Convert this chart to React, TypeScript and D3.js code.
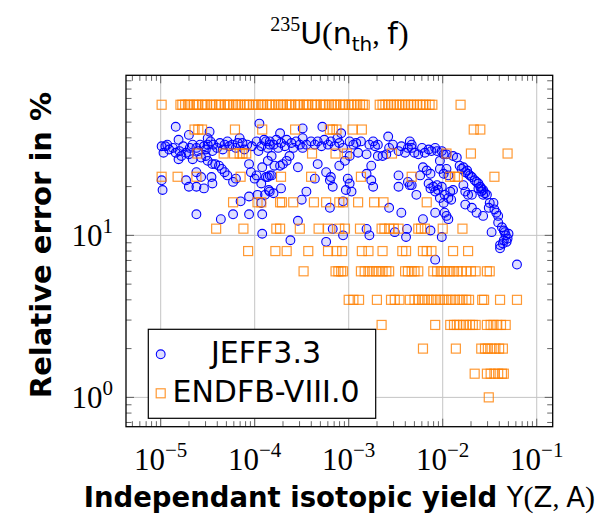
import React from "react";
import * as d3 from "d3";

// ---------------- DATA ----------------
// Axis tick labels (exponents of 10)
const xTickExponents = [-5, -4, -3, -2, -1];
const yTickExponents = [0, 1];
const legendLabels = ["JEFF3.3", "ENDFB-VIII.0"];

// ENDF/B-VIII.0 : relative error levels (%) and log10(independent yield) of the nuclides at each level
const endfLevels = [64, 45, 32, 23, 16, 11, 8, 6, 4, 2.8, 2, 1.4, 1];
const endf64 = [-4.99, -4.79, -4.77, -4.74, -4.71, -4.69, -4.65, -4.62, -4.60, -4.56, -4.53, -4.51, -4.47, -4.45, -4.41, -4.38, -4.36, -4.32, -4.29, -4.27, -4.23, -4.20, -4.18, -4.15, -4.11, -4.08, -4.06, -4.02, -3.99, -3.96, -3.93, -3.91, -3.87, -3.84, -3.82, -3.78, -3.75, -3.72, -3.70, -3.66, -3.63, -3.61, -3.57, -3.54, -3.52, -3.48, -3.45, -3.43, -3.39, -3.36, -3.34, -3.30, -3.27, -3.25, -3.21, -3.18, -3.15, -3.13, -3.09, -3.06, -3.04, -3.00, -2.97, -2.94, -2.91, -2.88, -2.85, -2.83, -2.67, -2.64, -2.61, -2.58, -2.55, -2.52, -2.49, -2.46, -2.43, -2.40, -2.37, -2.34, -2.31, -2.27, -2.24, -2.21, -2.18, -2.14, -2.11, -1.81];
const endf45 = [-4.64, -4.60, -4.56, -4.21, -3.92, -3.57, -3.20, -3.17, -3.13, -2.96, -2.86, -1.67, -1.60];
const endf32 = [-4.61, -4.33, -4.22, -4.16, -4.13, -4.09, -3.39, -3.14, -3.02, -2.54, -1.96, -1.70, -1.31];
const endf23 = [-4.99, -4.82, -4.62, -4.15, -3.72, -3.40, -2.87, -2.33, -1.92, -1.87, -1.84, -1.45];
const endf16 = [-4.23, -3.97, -3.93, -3.73, -3.71, -3.59, -3.37, -3.24, -3.10, -3.06, -2.90, -2.73, -2.63, -2.17];
const endf11 = [-4.41, -4.12, -3.77, -3.73, -3.52, -3.32, -3.22, -3.10, -3.04, -2.88, -2.65, -2.62, -2.57, -2.52, -2.47, -2.26, -2.23, -2.19, -2.00, -1.79];
const endf8 = [-4.07, -3.78, -3.66, -3.43, -3.22, -3.13, -3.07, -2.86, -2.79, -2.64, -2.43, -2.39, -2.21, -2.17, -2.12, -1.89, -1.73];
const endf6 = [-3.48, -3.14, -3.11, -3.08, -3.06, -2.87, -2.83, -2.79, -2.75, -2.71, -2.68, -2.64, -2.60, -2.57, -2.40, -2.37, -2.33, -2.30, -2.26, -2.10, -2.06, -2.02, -1.99, -1.95, -1.92, -1.88, -1.84, -1.80, -1.75, -1.70, -1.65, -1.53, -1.50];
const endf4 = [-3.00, -2.95, -2.89, -2.70, -2.55, -2.51, -2.46, -2.35, -2.30, -2.26, -2.22, -2.19, -2.15, -2.11, -2.07, -2.03, -1.99, -1.95, -1.91, -1.87, -1.83, -1.79, -1.75, -1.72, -1.58, -1.56, -1.39, -1.21];
const endf2p8 = [-2.65, -2.08, -1.92, -1.88, -1.85, -1.82, -1.78, -1.75, -1.71, -1.68, -1.65, -1.53, -1.49, -1.46, -1.42, -1.38, -1.33];
const endf2 = [-2.21, -1.86, -1.59, -1.55, -1.52, -1.48, -1.44, -1.40, -1.36];
const endf1p4 = [-1.66, -1.53, -1.49, -1.45, -1.41, -1.37, -1.35];
const endf1 = [-1.51];
const endfByLevel = [endf64, endf45, endf32, endf23, endf16, endf11, endf8, endf6, endf4, endf2p8, endf2, endf1p4, endf1];

// JEFF3.3 : [log10(independent yield), log10(relative error %)]
const jeffLowYield: [number, number][] = [
  [-4.84, 1.67], [-4.81, 1.59], [-4.70, 1.62], [-4.48, 1.64], [-4.50, 1.60], [-3.95, 1.69],
  [-4.99, 1.55], [-4.95, 1.55], [-4.97, 1.51], [-4.91, 1.53], [-4.87, 1.54], [-4.84, 1.51], [-4.80, 1.52],
  [-4.81, 1.47], [-4.78, 1.49], [-4.73, 1.51], [-4.69, 1.54], [-4.66, 1.56], [-4.62, 1.54], [-4.58, 1.56],
  [-4.54, 1.55], [-4.50, 1.56], [-4.45, 1.52], [-4.44, 1.56], [-4.40, 1.54], [-4.37, 1.57], [-4.32, 1.56],
  [-4.29, 1.58], [-4.24, 1.56], [-4.20, 1.54], [-4.16, 1.60], [-4.13, 1.57], [-4.11, 1.53], [-3.98, 1.58],
  [-3.93, 1.55], [-3.90, 1.59], [-3.86, 1.54], [-3.84, 1.56],
  [-4.93, 1.56], [-4.76, 1.55], [-4.60, 1.52], [-4.52, 1.53], [-4.47, 1.58], [-4.34, 1.53], [-4.27, 1.55],
  [-4.18, 1.57], [-4.08, 1.56], [-4.03, 1.55], [-3.96, 1.52], [-3.88, 1.58],
  [-4.70, 1.50], [-4.66, 1.47], [-4.57, 1.48], [-4.52, 1.49], [-4.50, 1.46], [-4.45, 1.44], [-4.42, 1.44],
  [-4.38, 1.43], [-4.35, 1.41], [-4.32, 1.39], [-4.29, 1.37], [-4.23, 1.33], [-4.20, 1.35],
  [-4.99, 1.34], [-4.98, 1.28], [-4.73, 1.34], [-4.70, 1.30], [-4.62, 1.30], [-4.62, 1.39], [-4.57, 1.36],
  [-4.54, 1.29], [-4.46, 1.36], [-4.45, 1.32],
  [-4.06, 1.44], [-4.04, 1.39], [-4.00, 1.35], [-3.98, 1.37], [-3.93, 1.32], [-3.92, 1.42], [-3.88, 1.36], [-3.84, 1.37],
  [-4.15, 1.21], [-4.06, 1.24], [-3.97, 1.25], [-3.93, 1.20], [-3.89, 1.25], [-3.85, 1.28],
  [-4.62, 1.13], [-4.36, 1.10], [-4.23, 1.13], [-4.06, 1.13], [-3.92, 1.13], [-3.92, 1.01],
];
const jeffMidYield: [number, number][] = [
  [-3.73, 1.63], [-3.49, 1.66], [-3.28, 1.67], [-3.08, 1.63], [-2.58, 1.61],
  [-3.84, 1.58], [-3.80, 1.56], [-3.77, 1.59], [-3.75, 1.54], [-3.72, 1.57], [-3.68, 1.55], [-3.66, 1.59],
  [-3.61, 1.57], [-3.59, 1.54], [-3.56, 1.58], [-3.52, 1.56], [-3.49, 1.60], [-3.49, 1.54], [-3.45, 1.56],
  [-3.40, 1.58], [-3.36, 1.56], [-3.33, 1.58], [-3.29, 1.55], [-3.26, 1.59], [-3.22, 1.56], [-3.19, 1.58],
  [-3.15, 1.55], [-3.12, 1.60], [-3.10, 1.57], [-3.06, 1.54], [-2.99, 1.58], [-2.95, 1.56], [-2.92, 1.57],
  [-2.90, 1.51], [-2.87, 1.58], [-2.81, 1.50], [-2.78, 1.56], [-2.74, 1.58], [-2.72, 1.55], [-2.69, 1.56],
  [-2.64, 1.49], [-2.60, 1.50], [-2.57, 1.54], [-2.53, 1.56], [-2.47, 1.52], [-2.44, 1.55], [-2.40, 1.51],
  [-2.37, 1.54], [-2.33, 1.56],
  [-3.86, 1.46], [-3.82, 1.49], [-3.79, 1.43], [-3.73, 1.43], [-3.70, 1.44], [-3.66, 1.46], [-3.63, 1.49],
  [-3.54, 1.42], [-3.33, 1.44], [-3.10, 1.43], [-3.04, 1.46], [-2.99, 1.49], [-2.76, 1.43], [-2.69, 1.49],
  [-3.86, 1.36], [-3.82, 1.37], [-3.84, 1.27], [-3.80, 1.26], [-3.72, 1.29], [-3.45, 1.27], [-3.36, 1.35],
  [-3.24, 1.39], [-3.20, 1.34], [-3.19, 1.36], [-3.17, 1.30], [-3.01, 1.35], [-2.99, 1.32], [-3.03, 1.28],
  [-2.97, 1.27], [-2.81, 1.38], [-2.76, 1.34], [-2.74, 1.30], [-2.47, 1.37], [-2.47, 1.30], [-2.37, 1.33], [-2.33, 1.31],
  [-3.50, 1.22], [-3.20, 1.17], [-3.06, 1.21], [-2.57, 1.17], [-2.44, 1.14],
  [-3.54, 1.09], [-3.17, 1.04], [-3.06, 1.00], [-2.78, 1.00], [-2.81, 1.04], [-2.51, 1.02], [-2.39, 0.99], [-2.38, 1.04],
  [-3.62, 0.97], [-3.24, 0.96],
];
const jeffHighYield: [number, number][] = [
  [-2.35, 1.58], [-2.33, 1.54], [-2.30, 1.51], [-2.26, 1.50], [-2.22, 1.54], [-2.19, 1.51], [-2.15, 1.53],
  [-2.12, 1.52], [-2.08, 1.54], [-2.06, 1.52], [-2.01, 1.52], [-1.99, 1.50], [-2.03, 1.46],
  [-2.21, 1.42], [-2.17, 1.40], [-2.24, 1.37], [-2.13, 1.38], [-2.03, 1.41], [-1.99, 1.38], [-1.96, 1.41], [-1.94, 1.37],
  [-2.35, 1.31], [-2.28, 1.25], [-2.15, 1.32], [-2.10, 1.30], [-2.06, 1.31], [-2.05, 1.28], [-2.01, 1.30],
  [-2.13, 1.29], [-2.08, 1.27], [-2.03, 1.23], [-1.98, 1.25], [-1.99, 1.20], [-1.94, 1.23], [-1.92, 1.27],
  [-1.89, 1.28], [-1.91, 1.22],
  [-2.08, 1.14], [-1.98, 1.14], [-1.96, 1.12], [-1.94, 1.10], [-2.21, 1.10], [-2.13, 1.03], [-2.01, 0.99],
  [-1.96, 1.50], [-1.89, 1.49], [-1.85, 1.48], [-1.82, 1.43], [-1.80, 1.41], [-1.78, 1.42], [-1.76, 1.39],
  [-1.74, 1.40], [-1.73, 1.38], [-1.71, 1.37], [-1.69, 1.36], [-1.66, 1.34], [-1.64, 1.33], [-1.62, 1.32],
  [-1.60, 1.30], [-1.59, 1.29], [-1.57, 1.28], [-1.55, 1.26], [-1.53, 1.25], [-1.50, 1.20], [-1.46, 1.20],
  [-1.45, 1.16], [-1.43, 1.14], [-1.41, 1.12], [-1.41, 1.08], [-1.37, 1.05], [-1.35, 1.03], [-1.34, 1.02],
  [-1.48, 1.02], [-1.32, 0.96], [-1.35, 0.97], [-1.39, 0.94], [-1.39, 0.92],
  [-1.33, 1.00], [-1.31, 0.98], [-1.30, 1.01], [-1.36, 0.95],
  [-1.78, 1.31], [-1.76, 1.27], [-1.73, 1.25], [-1.69, 1.25], [-1.62, 1.29], [-1.59, 1.27], [-1.57, 1.25],
  [-1.76, 1.19], [-1.69, 1.17], [-1.64, 1.14], [-1.57, 1.12], [-1.51, 1.17],
  [-2.08, 0.85], [-1.21, 0.82],
];

// ---------------- LAYOUT ----------------
const W = 598;
const H = 519;
const PL = 126, PR = 552.7, PT = 75.3, PB = 426.7;
const X_LOG_MIN = -5.369, X_LOG_MAX = -0.83;
const Y_LOG_MIN = -0.181, Y_LOG_MAX = 1.988;

const BLUE = "#0000ff";
const ORANGE = "#ff8000";
const SANS = "'DejaVu Sans', sans-serif";
const SERIF = "'Liberation Serif', serif";
const R = 4.4;
const SQ = 9;

export default function App() {
  const x = d3.scaleLog().domain([10 ** X_LOG_MIN, 10 ** X_LOG_MAX]).range([PL, PR]);
  const y = d3.scaleLog().domain([10 ** Y_LOG_MIN, 10 ** Y_LOG_MAX]).range([PB, PT]);

  const jeff = [...jeffLowYield, ...jeffMidYield, ...jeffHighYield].map(([lx, ly]) => ({
    yield: 10 ** lx,
    err: 10 ** ly,
  }));
  const endf: { yield: number; err: number }[] = [];
  endfLevels.forEach((lvl, i) => {
    endfByLevel[i].forEach((lx) => endf.push({ yield: 10 ** lx, err: lvl }));
  });

  const [xd0, xd1] = x.domain();
  const [yd0, yd1] = y.domain();
  const xMajor = xTickExponents.map((e) => 10 ** e);
  const yMajor = yTickExponents.map((e) => 10 ** e);
  const xMinor: number[] = [];
  for (let d = -6; d <= 0; d++) for (let k = 2; k <= 9; k++) {
    const v = k * 10 ** d;
    if (v > xd0 && v < xd1) xMinor.push(v);
  }
  const yMinor: number[] = [];
  for (let d = -1; d <= 2; d++) for (let k = 2; k <= 9; k++) {
    const v = k * 10 ** d;
    if (v > yd0 && v < yd1) yMinor.push(v);
  }

  const MAJ = 8, MIN = 5.5;
  const tickColor = "#555";

  const LX = 148.3, LY = 329.3, LW = 227.4, LH = 89;

  return (
    <svg width={W} height={H} style={{ position: "absolute", left: 0, top: 0, background: "#fff" }}>
      <rect x={0} y={0} width={W} height={H} fill="#fff" />
      {/* grid */}
      <g stroke="#c4c4c4" strokeWidth={1}>
        {xMajor.map((v) => (
          <line key={"gx" + v} x1={x(v)} x2={x(v)} y1={PT} y2={PB} />
        ))}
        {yMajor.map((v) => (
          <line key={"gy" + v} x1={PL} x2={PR} y1={y(v)} y2={y(v)} />
        ))}
      </g>
      {/* JEFF circles */}
      <g stroke={BLUE} strokeWidth={1.1} fill="rgba(0,0,255,0.13)">
        {jeff.map((d, i) => (
          <circle key={"j" + i} cx={x(d.yield)} cy={y(d.err)} r={R} />
        ))}
      </g>
      {/* ENDF squares */}
      <g stroke={ORANGE} strokeOpacity={0.8} strokeWidth={1.2} fill="none">
        {endf.map((d, i) => (
          <rect key={"e" + i} x={x(d.yield) - SQ / 2} y={y(d.err) - SQ / 2} width={SQ} height={SQ} />
        ))}
      </g>
      {/* ticks */}
      <g stroke={tickColor} strokeWidth={0.9}>
        {xMajor.map((v) => (
          <g key={"xt" + v}>
            <line x1={x(v)} x2={x(v)} y1={PB} y2={PB - MAJ} />
            <line x1={x(v)} x2={x(v)} y1={PT} y2={PT + MAJ} />
          </g>
        ))}
        {xMinor.map((v) => (
          <g key={"xm" + v}>
            <line x1={x(v)} x2={x(v)} y1={PB} y2={PB - MIN} />
            <line x1={x(v)} x2={x(v)} y1={PT} y2={PT + MIN} />
          </g>
        ))}
        {yMajor.map((v) => (
          <g key={"yt" + v}>
            <line x1={PL} x2={PL + MAJ} y1={y(v)} y2={y(v)} />
            <line x1={PR} x2={PR - MAJ} y1={y(v)} y2={y(v)} />
          </g>
        ))}
        {yMinor.map((v) => (
          <g key={"ym" + v}>
            <line x1={PL} x2={PL + MIN} y1={y(v)} y2={y(v)} />
            <line x1={PR} x2={PR - MIN} y1={y(v)} y2={y(v)} />
          </g>
        ))}
      </g>
      {/* frame */}
      <rect x={PL} y={PT} width={PR - PL} height={PB - PT} fill="none" stroke="#000" strokeWidth={1.3} />

      {/* x tick labels */}
      {xTickExponents.map((e) => (
        <text key={"xl" + e} x={x(10 ** e)} y={470} textAnchor="middle" fontFamily={SERIF} fontSize={31} fill="#000">
          <tspan>10</tspan>
          <tspan fontSize={21} dy={-13}>{"\u2212" + Math.abs(e)}</tspan>
        </text>
      ))}
      {/* y tick labels */}
      {yTickExponents.map((e) => (
        <text key={"yl" + e} x={113} y={y(10 ** e) + 11} textAnchor="end" fontFamily={SERIF} fontSize={31} fill="#000">
          <tspan>10</tspan>
          <tspan fontSize={21} dy={-13}>{String(e)}</tspan>
        </text>
      ))}

      {/* legend */}
      <rect x={LX} y={LY} width={LW} height={LH} fill="#fff" stroke="#000" strokeWidth={1.2} />
      <circle cx={160.7} cy={354.3} r={R} stroke={BLUE} strokeWidth={1.1} fill="rgba(0,0,255,0.13)" />
      <rect x={160.7 - SQ / 2} y={393.3 - SQ / 2} width={SQ} height={SQ} stroke={ORANGE} strokeOpacity={0.8} strokeWidth={1.2} fill="none" />
      <text x={266} y={363.3} textAnchor="middle" fontFamily={SANS} fontSize={30} fill="#000">{legendLabels[0]}</text>
      <text x={266} y={401.7} textAnchor="middle" fontFamily={SANS} fontSize={30} fill="#000">{legendLabels[1]}</text>

      {/* title */}
      <text x={(PL + PR) / 2} y={44} textAnchor="middle" fill="#000" fontSize={30}>
        <tspan fontFamily={SERIF} fontSize={20} dy={-13}>235</tspan>
        <tspan fontFamily={SANS} dy={13}>U</tspan>
        <tspan fontFamily={SERIF} fontSize={32}>(</tspan>
        <tspan fontFamily={SANS}>n</tspan>
        <tspan fontFamily={SANS} fontSize={20} dy={7}>th</tspan>
        <tspan fontFamily={SERIF} dy={-7}>, </tspan>
        <tspan fontFamily={SANS}>f</tspan>
        <tspan fontFamily={SERIF} fontSize={32}>)</tspan>
      </text>

      {/* axis labels */}
      <text x={(PL + PR) / 2} y={507} textAnchor="middle" fill="#000" fontSize={27.5}>
        <tspan fontFamily={SANS} fontWeight="bold">Independant isotopic yield </tspan>
        <tspan fontFamily={SANS}>Y</tspan>
        <tspan fontFamily={SERIF} fontSize={30}>(</tspan>
        <tspan fontFamily={SANS}>Z</tspan>
        <tspan fontFamily={SERIF}>, </tspan>
        <tspan fontFamily={SANS}>A</tspan>
        <tspan fontFamily={SERIF} fontSize={30}>)</tspan>
      </text>
      <text transform={`translate(51, ${(PT + PB) / 2 - 6}) rotate(-90)`} textAnchor="middle" fontFamily={SANS} fontWeight="bold" fontSize={29} fill="#000">
        Relative error in %
      </text>
    </svg>
  );
}
